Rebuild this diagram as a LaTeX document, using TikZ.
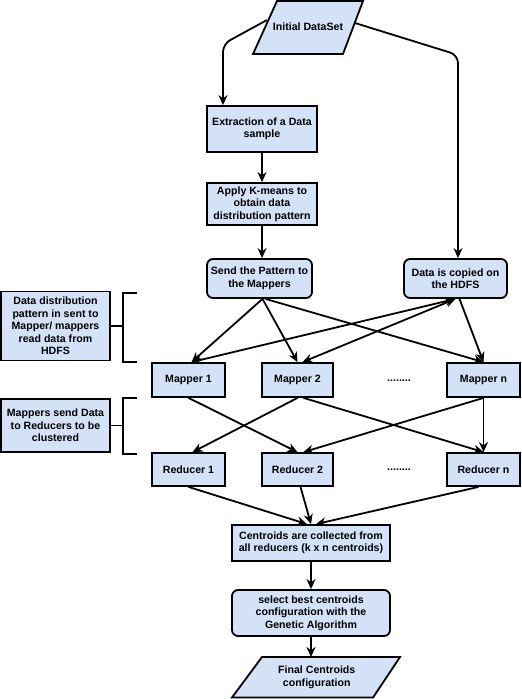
\documentclass[tikz,border=0pt]{standalone}
\usepackage{fontspec}
\setmainfont{Liberation Sans}
\usetikzlibrary{arrows.meta,calc}
\definecolor{boxblue}{HTML}{D4E2F7}
\begin{document}
\begin{tikzpicture}[x=1pt,y=-1pt,
  txt/.style={font=\bfseries\fontsize{10.6}{12.5}\selectfont, align=center, inner sep=0pt},
  sqbox/.style={txt, draw=black, fill=boxblue, line width=1.8pt},
  rbox/.style={sqbox, rounded corners=6pt},
  para/.style={draw=black, fill=boxblue, line width=1.8pt},
  arr/.style={line width=1.8pt, -{Stealth[length=10pt,width=9pt]}},
  biarr/.style={line width=1.8pt, {Stealth[length=10pt,width=9pt]}-{Stealth[length=10pt,width=9pt]}},
  conn/.style={line width=1.8pt},
]
\useasboundingbox (0,0) rectangle (522,699);

% parallelograms
\draw[para] (253,54) -- (277,1) -- (363,1) -- (343,54) -- cycle;
\node[txt] (init) at (308,27) {Initial DataSet};
\coordinate (il) at (267,20);
\coordinate (ir) at (355,23);
\draw[para] (232,697.5) -- (262,657) -- (400,657) -- (373,697.5) -- cycle;
\node[txt] (fin) at (316.75,677.5) {Final Centroids\\configuration};
\coordinate (fintop) at (311,657);

% main boxes
\node[sqbox, minimum width=110pt, minimum height=46pt] (ext) at (262,129) {Extraction of a Data\\sample};
\node[sqbox, minimum width=110pt, minimum height=42pt] (km) at (262,204) {Apply K-means to\\obtain data\\distribution pattern};
\node[rbox, minimum width=105pt, minimum height=39pt] (send) at (259.5,278.5) {Send the Pattern to\\the Mappers};
\node[rbox, minimum width=103pt, minimum height=39pt] (dat) at (455.5,278.5) {Data is copied on\\the HDFS};

\node[sqbox, minimum width=109pt, minimum height=69pt] (note1) at (55.5,326) {Data distribution\\pattern in sent to\\Mapper/ mappers\\read data from\\HDFS};
\node[sqbox, minimum width=109pt, minimum height=53pt] (note2) at (55.5,425.5) {Mappers send Data\\to Reducers to be\\clustered};

\node[sqbox, minimum width=73pt, minimum height=34pt] (m1) at (188.5,380) {Mapper 1};
\node[sqbox, minimum width=71pt, minimum height=34pt] (m2) at (297.5,380) {Mapper 2};
\node[sqbox, minimum width=73pt, minimum height=34pt] (mn) at (483.5,380) {Mapper n};
\node[txt] (d1) at (399,381) {........};

\node[sqbox, minimum width=73pt, minimum height=33pt] (r1) at (188.5,469.5) {Reducer 1};
\node[sqbox, minimum width=71pt, minimum height=33pt] (r2) at (297.5,469.5) {Reducer 2};
\node[sqbox, minimum width=73pt, minimum height=33pt] (rn) at (483.5,469.5) {Reducer n};
\node[txt] (d2) at (399,470) {........};

\node[sqbox, minimum width=158pt, minimum height=36pt] (cen) at (311,543) {Centroids are collected from\\all reducers (k x n centroids)};
\node[rbox, minimum width=158pt, minimum height=46pt] (sel) at (311,613) {select best centroids\\configuration with the\\Genetic Algorithm};

% brackets
\coordinate (b1) at (123,326);
\draw[conn] (note1.east) -- (b1);
\draw[conn] (137,293) -- (123,293) -- (123,362) -- (137,362);
\coordinate (b2) at (123,425.5);
\draw[conn] (note2.east) -- (b2);
\draw[conn] (137,398) -- (123,398) -- (123,454) -- (137,454);

% connectors top
\coordinate (lc) at (223,44);
\draw[arr, rounded corners=8pt] (il) -- (lc) -- (lc |- ext.north);
\coordinate (rc) at (458,55);
\draw[arr, rounded corners=8pt] (ir) -- (rc) -- (rc |- dat.north);
\draw[arr] (ext) -- (km);
\draw[arr] (km.south) -- (km.south |- send.north);

% send / data to mappers
\draw[arr] ($(send.south)+(3,0)$) -- ($(m1.north)+(3,0)$);
\draw[arr] ($(send.south)+(3,0)$) -- (m2.north);
\draw[arr] ($(send.south)+(6,0)$) -- (mn.north);
\draw[biarr] (dat.south) -- ($(m1.north)+(3,0)$);
\draw[biarr] (dat.south) -- ($(m2.north)+(5,0)$);
\draw[arr] ($(dat.south)+(4,0)$) -- (mn.north);

% mappers to reducers
\draw[arr] (m1.south) -- (r2.north);
\draw[arr] (m2.south) -- ($(r1.north)+(4,0)$);
\draw[arr] ($(m2.south)+(6,0)$) -- (rn.north);
\draw[arr] (mn.south) -- ($(r2.north)+(6,0)$);
\draw[arr] (mn) -- (rn);

% reducers to centroids
\draw[arr] (r1.south) -- ($(cen.north)+(-4,0)$);
\draw[arr] ($(r2.south)+(3,0)$) -- (cen.north);
\draw[arr] ($(rn.south)+(-5,0)$) -- ($(cen.north)+(5,0)$);
\draw[arr] (cen) -- (sel);
\draw[arr] (sel.south) -- (fintop);
\end{tikzpicture}
\end{document}
